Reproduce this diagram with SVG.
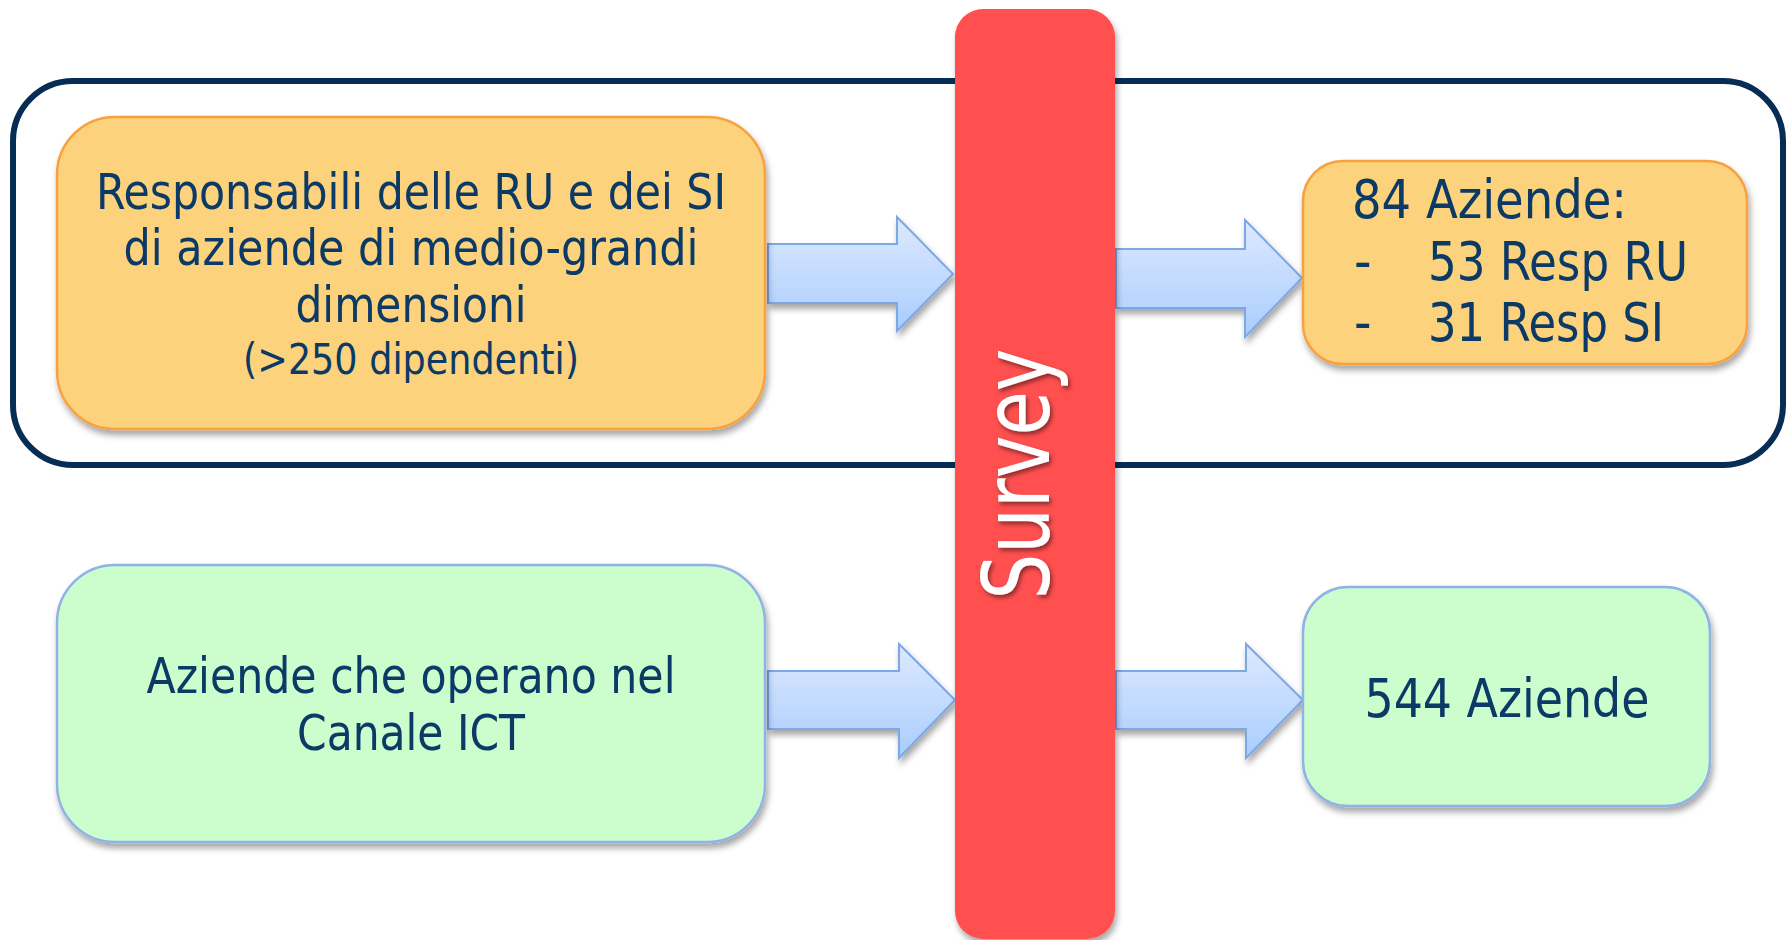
<svg xmlns="http://www.w3.org/2000/svg" width="1791" height="940" viewBox="0 0 1791 940">
<style>
  .t { font-family: "DejaVu Sans", "Noto Sans", sans-serif; font-stretch: condensed; fill: #0b3a66; }
  .orange { fill: #fdd27b; stroke: #f7a13f; stroke-width: 2.5; }
  .green { fill: #ccfdcc; stroke: #90b2e4; stroke-width: 2.5; }
  .arrow { fill: url(#ag); stroke: #7ea7e6; stroke-width: 2; }
</style>
<defs>
  <linearGradient id="ag" x1="0" y1="0" x2="0" y2="1">
    <stop offset="0" stop-color="#dde9ff"/>
    <stop offset="1" stop-color="#a9cdfd"/>
  </linearGradient>
  <filter id="sh" x="-10%" y="-10%" width="120%" height="130%">
    <feDropShadow dx="2" dy="5" stdDeviation="3" flood-color="#000" flood-opacity="0.35"/>
  </filter>
  <filter id="tsh" x="-20%" y="-20%" width="140%" height="140%">
    <feDropShadow dx="-3" dy="2" stdDeviation="2" flood-color="#000" flood-opacity="0.45"/>
  </filter>
</defs>
<rect width="1791" height="940" fill="#ffffff"/>

<g id="group-frame">
  <rect x="13" y="81" width="1770" height="384" rx="60" ry="60" fill="none" stroke="#062e55" stroke-width="6"/>
</g>

<g id="connectors">
  <path class="arrow" filter="url(#sh)" d="M768,244 H897 V217 L953,274 L897,331 V303 H768 Z"/>
  <path class="arrow" filter="url(#sh)" d="M1116,249 H1245 V220 L1302,278 L1245,337 V308 H1116 Z"/>
  <path class="arrow" filter="url(#sh)" d="M768,671 H899 V644 L955,700 L899,758 V729 H768 Z"/>
  <path class="arrow" filter="url(#sh)" d="M1116,671 H1246 V644 L1303,700 L1246,758 V729 H1116 Z"/>
</g>

<g id="node-survey">
  <rect x="955" y="9" width="160" height="930" rx="28" ry="28" fill="#ff5050" filter="url(#sh)"/>
  <text class="t" x="0" y="0" transform="translate(1049,474) rotate(-90)" text-anchor="middle" font-size="92" style="fill:#ffffff;font-stretch:normal" textLength="251" lengthAdjust="spacingAndGlyphs" filter="url(#tsh)">Survey</text>
</g>

<g id="node-responsabili">
  <rect class="orange" x="57" y="117" width="708" height="312" rx="58" ry="58" filter="url(#sh)"/>
  <text class="t" x="411" y="209" text-anchor="middle" font-size="49" textLength="630" lengthAdjust="spacingAndGlyphs">Responsabili delle RU e dei SI</text>
  <text class="t" x="411" y="265" text-anchor="middle" font-size="49" textLength="575" lengthAdjust="spacingAndGlyphs">di aziende di medio-grandi</text>
  <text class="t" x="411" y="322" text-anchor="middle" font-size="49" textLength="231" lengthAdjust="spacingAndGlyphs">dimensioni</text>
  <text class="t" x="411" y="374" text-anchor="middle" font-size="42" textLength="336" lengthAdjust="spacingAndGlyphs">(&gt;250 dipendenti)</text>
</g>

<g id="node-84-aziende">
  <rect class="orange" x="1303" y="161" width="444" height="203" rx="40" ry="40" filter="url(#sh)"/>
  <text class="t" x="1352" y="218" font-size="54" textLength="275" lengthAdjust="spacingAndGlyphs">84 Aziende:</text>
  <text class="t" x="1354" y="280" font-size="54">-</text>
  <text class="t" x="1428" y="280" font-size="54" textLength="260" lengthAdjust="spacingAndGlyphs">53 Resp RU</text>
  <text class="t" x="1354" y="341" font-size="54">-</text>
  <text class="t" x="1428" y="341" font-size="54" textLength="236" lengthAdjust="spacingAndGlyphs">31 Resp SI</text>
</g>

<g id="node-canale-ict">
  <rect class="green" x="57" y="565" width="708" height="277" rx="58" ry="58" filter="url(#sh)"/>
  <text class="t" x="411" y="693" text-anchor="middle" font-size="49" textLength="529" lengthAdjust="spacingAndGlyphs">Aziende che operano nel</text>
  <text class="t" x="411" y="750" text-anchor="middle" font-size="49" textLength="228" lengthAdjust="spacingAndGlyphs">Canale ICT</text>
</g>

<g id="node-544-aziende">
  <rect class="green" x="1303" y="587" width="407" height="219" rx="45" ry="45" filter="url(#sh)"/>
  <text class="t" x="1507" y="717" text-anchor="middle" font-size="54" textLength="285" lengthAdjust="spacingAndGlyphs">544 Aziende</text>
</g>
</svg>
